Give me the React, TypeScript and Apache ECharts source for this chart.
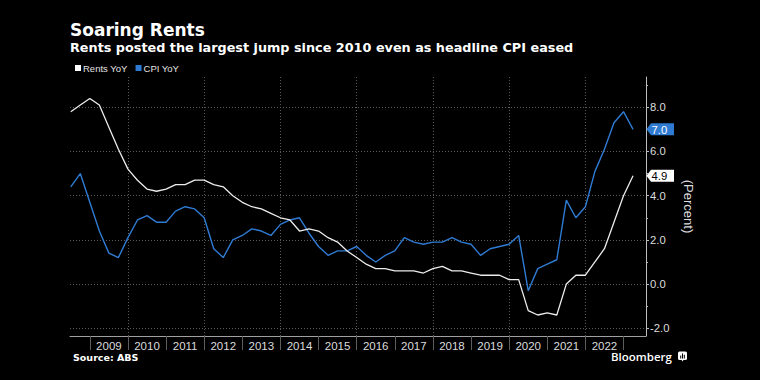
import React, { useEffect, useRef } from "react";
import * as echarts from "echarts";

// Quarter-end months (YYYY-MM), June 2008 to March 2023
const QUARTERS = [
  "2008-06", "2008-09", "2008-12",
  "2009-03", "2009-06", "2009-09", "2009-12",
  "2010-03", "2010-06", "2010-09", "2010-12",
  "2011-03", "2011-06", "2011-09", "2011-12",
  "2012-03", "2012-06", "2012-09", "2012-12",
  "2013-03", "2013-06", "2013-09", "2013-12",
  "2014-03", "2014-06", "2014-09", "2014-12",
  "2015-03", "2015-06", "2015-09", "2015-12",
  "2016-03", "2016-06", "2016-09", "2016-12",
  "2017-03", "2017-06", "2017-09", "2017-12",
  "2018-03", "2018-06", "2018-09", "2018-12",
  "2019-03", "2019-06", "2019-09", "2019-12",
  "2020-03", "2020-06", "2020-09", "2020-12",
  "2021-03", "2021-06", "2021-09", "2021-12",
  "2022-03", "2022-06", "2022-09", "2022-12",
  "2023-03",
];

const RENTS_YOY = [
  7.8, 8.1, 8.4, 8.1, 7.1, 6.1, 5.2, 4.7, 4.3, 4.2,
  4.3, 4.5, 4.5, 4.7, 4.7, 4.5, 4.4, 4.0, 3.7, 3.5,
  3.4, 3.2, 3.0, 2.9, 2.4, 2.5, 2.4, 2.1, 1.9, 1.5,
  1.2, 0.9, 0.7, 0.7, 0.6, 0.6, 0.6, 0.5, 0.7, 0.8,
  0.6, 0.6, 0.5, 0.4, 0.4, 0.4, 0.2, 0.2, -1.2, -1.4,
  -1.3, -1.4, 0.0, 0.4, 0.4, 1.0, 1.6, 2.8, 4.0, 4.9,
];

const CPI_YOY = [
  4.4, 5.0, 3.7, 2.4, 1.4, 1.2, 2.1, 2.9, 3.1, 2.8,
  2.8, 3.3, 3.5, 3.4, 3.0, 1.6, 1.2, 2.0, 2.2, 2.5,
  2.4, 2.2, 2.7, 2.9, 3.0, 2.3, 1.7, 1.3, 1.5, 1.5,
  1.7, 1.3, 1.0, 1.3, 1.5, 2.1, 1.9, 1.8, 1.9, 1.9,
  2.1, 1.9, 1.8, 1.3, 1.6, 1.7, 1.8, 2.2, -0.3, 0.7,
  0.9, 1.1, 3.8, 3.0, 3.5, 5.1, 6.1, 7.3, 7.8, 7.0,
];

const YEAR_LABELS = [2009, 2010, 2011, 2012, 2013, 2014, 2015, 2016, 2017, 2018, 2019, 2020, 2021, 2022];
const YEAR_SEPARATORS = [2009, 2010, 2011, 2012, 2013, 2014, 2015, 2016, 2017, 2018, 2019, 2020, 2021, 2022, 2023];
const GRID_YEARS = [2010, 2012, 2014, 2016, 2018, 2020, 2022];
const Y_MAJOR = [-2, 0, 2, 4, 6, 8];
const Y_MINOR = [-1, 1, 3, 5, 7, 9];

const SERIES_NAMES = ["Rents YoY", "CPI YoY"];
const WHITE = "#ececec";
const BLUE = "#2f7bd4";

const X_MIN = 2008.48;
const X_MAX = 2023.59;
const Y_MIN = -2.35;
const Y_MAX = 9.37;

const AXIS_FONT = "'Liberation Sans', Arial, sans-serif";
const TITLE_FONT = "'DejaVu Sans', sans-serif";

function toYear(q: string): number {
  const [y, m] = q.split("-").map(Number);
  return y + m / 12;
}

export default function App() {
  const ref = useRef<HTMLDivElement>(null);

  useEffect(() => {
    if (!ref.current) return;
    const chart = echarts.init(ref.current, null, { renderer: "svg" });

    const xs = QUARTERS.map(toYear);
    const rents = xs.map((x, i) => [x, RENTS_YOY[i]]);
    const cpi = xs.map((x, i) => [x, CPI_YOY[i]]);
    const last = xs.length - 1;
    const endLabels = [
      [xs[last], RENTS_YOY[last], 0],
      [xs[last], CPI_YOY[last], 1],
    ];

    const option: any = {
      animation: false,
      backgroundColor: "#000",
      grid: { left: 70, right: 114, top: 77, bottom: 44, containLabel: false },
      legend: {
        left: 70,
        top: 58,
        itemWidth: 6,
        itemHeight: 6,
        itemGap: 8,
        icon: "rect",
        textStyle: { color: "#e2e2e2", fontSize: 9.5, fontFamily: AXIS_FONT, padding: [0, 0, 0, -3] },
        data: SERIES_NAMES,
      },
      xAxis: [
        {
          type: "value",
          min: X_MIN,
          max: X_MAX,
          position: "bottom",
          axisLine: { show: true, onZero: false, lineStyle: { color: "#a0a0a0", width: 1 } },
          axisTick: { show: true, customValues: YEAR_SEPARATORS, length: 14, lineStyle: { color: "#5c5c5c" } },
          axisLabel: {
            show: true,
            customValues: YEAR_LABELS.map((y) => y + 0.5),
            formatter: (v: number) => String(Math.floor(v)),
            color: "#dcdcdc",
            fontSize: 11.5,
            fontFamily: AXIS_FONT,
            margin: 4,
          },
          splitLine: { show: false },
        },
        {
          type: "value",
          min: X_MIN,
          max: X_MAX,
          position: "bottom",
          axisLine: { show: false, onZero: false },
          axisTick: { show: false, customValues: GRID_YEARS },
          axisLabel: { show: false },
          splitLine: { show: true, lineStyle: { type: [1, 2], color: "#5a5a5a", width: 1 } },
        },
      ],
      yAxis: [
        {
          type: "value",
          position: "right",
          min: Y_MIN,
          max: Y_MAX,
          axisLine: { show: true, onZero: false, lineStyle: { color: "#bdbdbd", width: 1 } },
          axisTick: { show: true, customValues: Y_MAJOR, length: 3, lineStyle: { color: "#bdbdbd" } },
          axisLabel: {
            customValues: Y_MAJOR,
            formatter: (v: number) => v.toFixed(1),
            color: "#dcdcdc",
            fontSize: 11.3,
            fontFamily: AXIS_FONT,
            margin: 4,
          },
          splitLine: { show: true, lineStyle: { type: [1, 2], color: "#5a5a5a", width: 1 } },
          name: "(Percent)",
          nameLocation: "middle",
          nameRotate: -90,
          nameGap: 36,
          nameTextStyle: { color: "#dcdcdc", fontSize: 13, fontFamily: AXIS_FONT },
        },
        {
          type: "value",
          position: "right",
          min: Y_MIN,
          max: Y_MAX,
          axisLine: { show: false, onZero: false },
          axisTick: { show: true, customValues: Y_MINOR, length: 2, lineStyle: { color: "#bdbdbd" } },
          axisLabel: { show: false },
          splitLine: { show: false },
        },
      ],
      series: [
        {
          name: SERIES_NAMES[1],
          type: "line",
          data: cpi,
          xAxisIndex: 0,
          yAxisIndex: 0,
          showSymbol: false,
          symbol: "none",
          itemStyle: { color: BLUE },
          lineStyle: { color: BLUE, width: 1.4 },
          z: 3,
        },
        {
          name: SERIES_NAMES[0],
          type: "line",
          data: rents,
          xAxisIndex: 0,
          yAxisIndex: 0,
          showSymbol: false,
          symbol: "none",
          itemStyle: { color: "#ffffff" },
          lineStyle: { color: WHITE, width: 1.3 },
          z: 4,
        },
        {
          type: "custom",
          xAxisIndex: 0,
          yAxisIndex: 0,
          data: endLabels,
          clip: false,
          z: 10,
          silent: true,
          renderItem: (params: any, api: any) => {
            const pt = api.coord([api.value(0), api.value(1)]);
            const cs = params.coordSys;
            const x0 = cs.x + cs.width;
            const y = pt[1];
            const isCpi = api.value(2) === 1;
            const fill = isCpi ? BLUE : "#ffffff";
            const tc = isCpi ? "#ffffff" : "#000000";
            return {
              type: "group",
              children: [
                {
                  type: "polygon",
                  shape: {
                    points: [
                      [x0 + 0.5, y],
                      [x0 + 5, y - 6],
                      [x0 + 28, y - 6],
                      [x0 + 28, y + 6],
                      [x0 + 5, y + 6],
                    ],
                  },
                  style: { fill },
                },
                {
                  type: "text",
                  x: x0 + 5.5,
                  y: y + 0.5,
                  style: {
                    text: Number(api.value(1)).toFixed(1),
                    fill: tc,
                    font: `11.3px ${AXIS_FONT}`,
                    verticalAlign: "middle",
                    align: "left",
                  },
                },
              ],
            };
          },
        },
      ],
      graphic: [
        {
          type: "text",
          left: 70,
          top: 21,
          style: { text: "Soaring Rents", fill: "#ffffff", font: `bold 17px ${TITLE_FONT}` },
        },
        {
          type: "text",
          left: 70,
          top: 41,
          style: {
            text: "Rents posted the largest jump since 2010 even as headline CPI eased",
            fill: "#ffffff",
            font: `bold 12.8px ${TITLE_FONT}`,
          },
        },
        {
          type: "text",
          left: 73,
          top: 352,
          style: { text: "Source: ABS", fill: "#ffffff", font: `bold 9.5px ${TITLE_FONT}` },
        },
        {
          type: "text",
          left: 611,
          top: 350,
          style: { text: "Bloomberg", fill: "#ffffff", font: `600 11.5px 'Open Sans', sans-serif` },
        },
        {
          type: "group",
          left: 678,
          top: 351.5,
          children: [
            { type: "rect", shape: { x: 0, y: 0, width: 9, height: 8.5, r: 1.5 }, style: { fill: "#ffffff" } },
            { type: "polygon", shape: { points: [[3.5, 8.3], [5.5, 8.3], [4.5, 10]] }, style: { fill: "#ffffff" } },
            { type: "rect", shape: { x: 2.2, y: 4, width: 1, height: 3 }, style: { fill: "#000" } },
            { type: "rect", shape: { x: 4, y: 2, width: 1, height: 5 }, style: { fill: "#000" } },
            { type: "rect", shape: { x: 5.8, y: 3.2, width: 1, height: 3.8 }, style: { fill: "#000" } },
          ],
        },
      ],
    };

    chart.setOption(option);
    return () => chart.dispose();
  }, []);

  return (
    <div
      ref={ref}
      style={{ position: "fixed", left: 0, top: 0, width: 760, height: 380, background: "#000" }}
    />
  );
}
